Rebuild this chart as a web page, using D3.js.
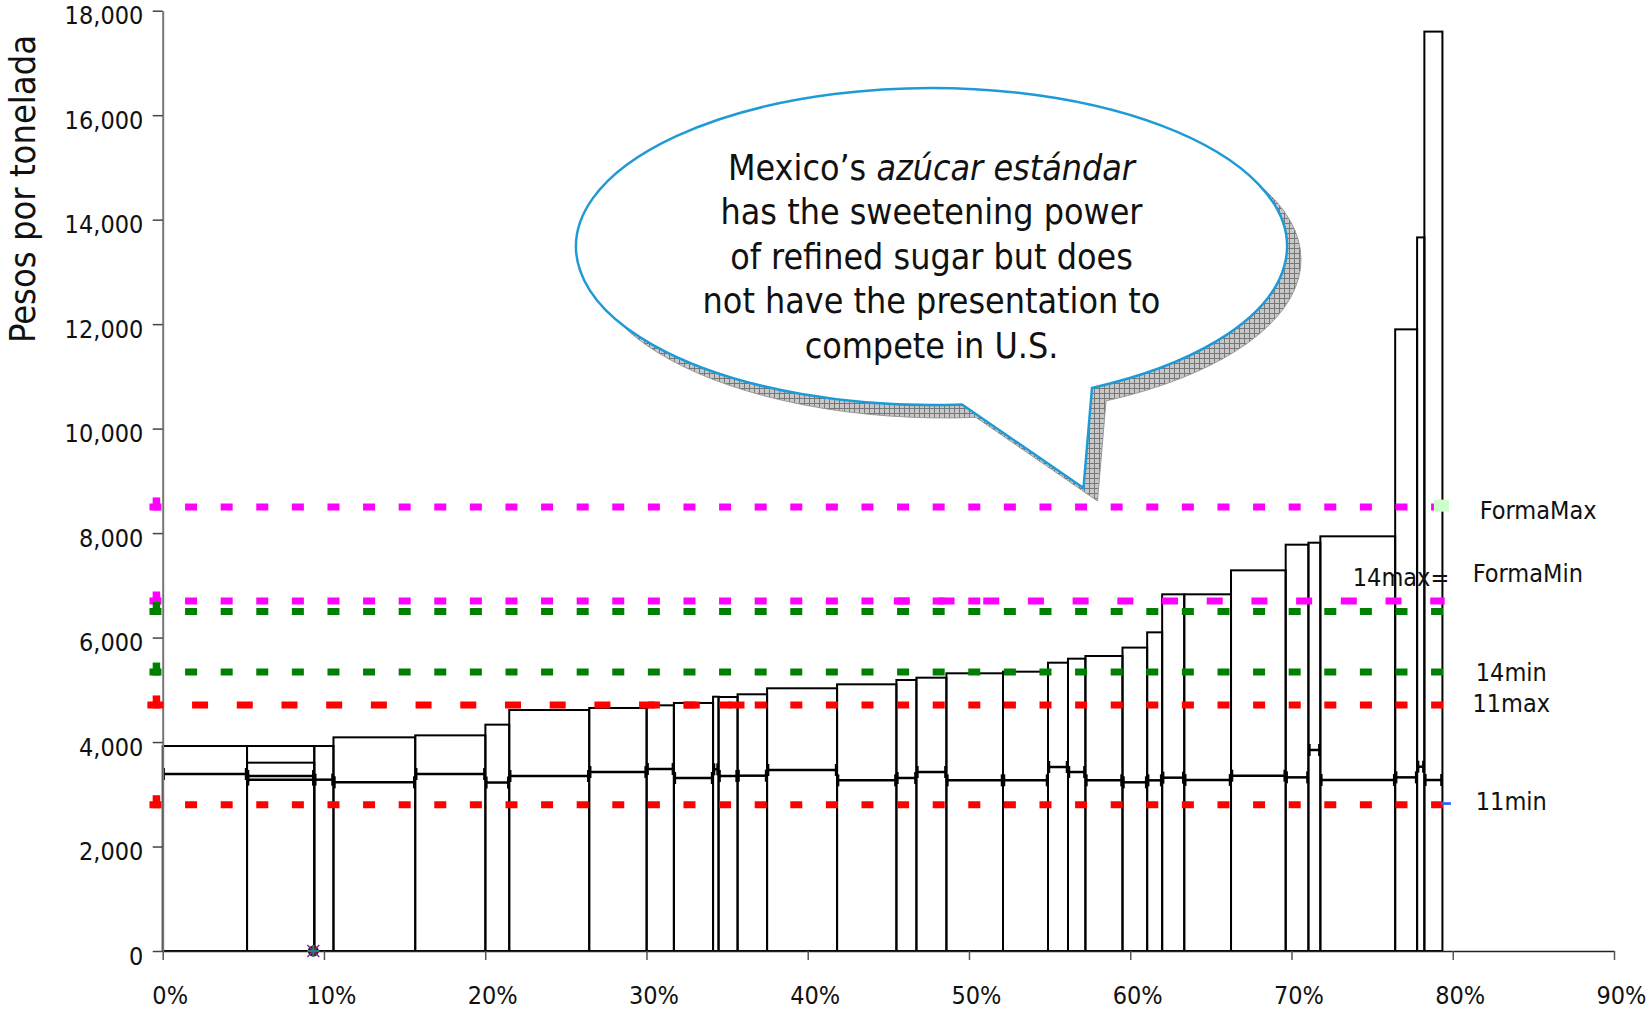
<!DOCTYPE html>
<html>
<head>
<meta charset="utf-8">
<script src="https://cdn.jsdelivr.net/npm/d3@7"></script>
<style>
  body { margin: 0; background: #fff; }
  svg { display: block; }
  text { font-family: "DejaVu Sans Condensed", "Noto Sans", sans-serif; }
</style>
</head>
<body>
<svg id="chart" width="1648" height="1012"></svg>
<script>
// ---------------- DATA ----------------
// cumulative share of production (%) where each mill's box starts / ends
const shareStart = [0, 5.23, 5.23, 9.40, 10.59, 15.66, 20.01, 21.49, 26.45, 30.01, 31.70, 34.13, 34.47, 35.65, 37.48, 41.82, 45.50, 46.74, 48.60, 52.11, 54.90, 56.14, 57.22, 59.52, 61.05, 61.98, 63.35, 66.25, 69.64, 71.05, 71.79, 76.43, 77.79, 78.24];
const shareEnd   = [5.23, 9.40, 9.40, 10.59, 15.66, 20.01, 21.49, 26.45, 30.01, 31.70, 34.13, 34.47, 35.65, 37.48, 41.82, 45.50, 46.74, 48.60, 52.11, 54.90, 56.14, 57.22, 59.52, 61.05, 61.98, 63.35, 66.25, 69.64, 71.05, 71.79, 76.43, 77.79, 78.24, 79.36];
// upper value of each box (pesos per ton)
const topValue   = [3924, 3924, 3605, 3924, 4090, 4128, 4333, 4613, 4652, 4703, 4748, 4868, 4862, 4914, 5029, 5105, 5188, 5232, 5316, 5347, 5519, 5596, 5647, 5808, 6100, 6828, 6828, 7287, 7778, 7816, 7938, 11900, 13660, 17600];
// lower value marked inside each box
const lowValue   = [3388, 3350, 3280, 3280, 3229, 3388, 3225, 3350, 3426, 3484, 3312, 3478, 3350, 3356, 3465, 3267, 3312, 3426, 3267, 3267, 3522, 3426, 3267, 3229, 3267, 3318, 3273, 3356, 3324, 3848, 3273, 3324, 3528, 3273];

const yTicks = [0, 2000, 4000, 6000, 8000, 10000, 12000, 14000, 16000, 18000];
const xTicks = [0, 10, 20, 30, 40, 50, 60, 70, 80, 90];

// horizontal reference levels
const refNames  = ["FormaMax", "FormaMin", "14max", "14min", "11max", "11min"];
const refValues = [8500, 6700, 6500, 5340, 4710, 2800];
const refColors = ["#ff00ff", "#ff00ff", "#008000", "#008000", "#ff0000", "#ff0000"];

// dashed segments drawn for each reference level (index into refNames)
const segRef   = [0, 1, 1, 2, 3, 4, 4, 5];
const segFrom  = [-0.82, -0.82, 45.34, -0.82, -0.82, -0.95, 30.09, -0.82];
const segTo    = [79.5, 50.9, 79.5, 79.5, 79.5, 36.2, 79.5, 79.5];
const segKind  = ["short", "short", "long", "short", "short", "long", "short", "short"];

// right-hand labels
const labelText  = ["FormaMax", "14max=", "FormaMin", "14min", "11max", "11min"];
const labelShare = [81.67, 73.8, 81.24, 81.43, 81.22, 81.43];
const labelValue = [8270, 6987, 7064, 5169, 4581, 2699];

// the marker at the origin line
const markerShare = [9.34];
const markerValue = [0];

const yTitle = "Pesos por tonelada";
const calloutLine1a = "Mexico’s ";
const calloutLine1b = "azúcar estándar";
const calloutLines = ["has the sweetening power", "of refined sugar but does", "not have the presentation to", "compete in U.S."];

// ---------------- CHART ----------------
const svg = d3.select("#chart");
svg.append("rect").attr("width", 1648).attr("height", 1012).attr("fill", "#fff");

const x = d3.scaleLinear().domain([0, 90]).range([162.7, 1614]);
const y = d3.scaleLinear().domain([0, 18000]).range([951, 10.7]);

const defs = svg.append("defs");
const pat = defs.append("pattern").attr("id", "hatch").attr("patternUnits", "userSpaceOnUse")
  .attr("width", 5).attr("height", 5);
pat.append("rect").attr("width", 5).attr("height", 5).attr("fill", "#c8c8c8");
pat.append("path").attr("d", "M0,0.5H5M0.5,0V5").attr("stroke", "#777").attr("stroke-width", 1);

// boxes
const bars = d3.range(shareStart.length);
svg.append("g").selectAll("rect").data(bars).join("rect")
  .attr("x", i => x(shareStart[i]))
  .attr("width", i => x(shareEnd[i]) - x(shareStart[i]))
  .attr("y", i => y(topValue[i]))
  .attr("height", i => y(0) - y(topValue[i]))
  .attr("fill", "none").attr("stroke", "#000").attr("stroke-width", 2);

// inner lower lines with caps
const low = svg.append("g").attr("stroke", "#000");
low.selectAll("line.l").data(bars).join("line").attr("class", "l")
  .attr("x1", i => x(shareStart[i])).attr("x2", i => x(shareEnd[i]))
  .attr("y1", i => y(lowValue[i])).attr("y2", i => y(lowValue[i]))
  .attr("stroke-width", 2.5);
low.selectAll("line.c0").data(bars).join("line").attr("class", "c0")
  .attr("x1", i => x(shareStart[i]) + 1).attr("x2", i => x(shareStart[i]) + 1)
  .attr("y1", i => y(lowValue[i]) - 6).attr("y2", i => y(lowValue[i]) + 6)
  .attr("stroke-width", 2.5);
low.selectAll("line.c1").data(bars).join("line").attr("class", "c1")
  .attr("x1", i => x(shareEnd[i]) - 1).attr("x2", i => x(shareEnd[i]) - 1)
  .attr("y1", i => y(lowValue[i]) - 6).attr("y2", i => y(lowValue[i]) + 6)
  .attr("stroke-width", 2.5);

// axes
const xAxis = svg.append("g").attr("transform", `translate(0,${y(0)})`)
  .call(d3.axisBottom(x).tickValues(xTicks).tickSize(9).tickSizeOuter(0).tickFormat(d => d + "%"));
xAxis.select(".domain").attr("stroke", "#222").attr("stroke-width", 1.5);
xAxis.selectAll(".tick line").attr("stroke", "#555").attr("stroke-width", 1.5);
xAxis.selectAll(".tick text").attr("y", 53).attr("dy", 0).attr("x", 7)
  .attr("font-size", 25).attr("fill", "#111");

const yAxis = svg.append("g").attr("transform", `translate(${x(0)},0)`)
  .call(d3.axisLeft(y).tickValues(yTicks).tickSize(10).tickSizeOuter(0).tickFormat(d3.format(",")));
yAxis.select(".domain").attr("stroke", "#777").attr("stroke-width", 2);
yAxis.selectAll(".tick line").attr("stroke", "#444").attr("stroke-width", 1.5);
yAxis.selectAll(".tick text").attr("x", -19.4).attr("y", 13).attr("dy", 0)
  .attr("font-size", 25).attr("fill", "#111");
xAxis.attr("font-family", null);
yAxis.attr("font-family", null);

svg.append("text").attr("transform", "translate(35,189) rotate(-90)")
  .attr("text-anchor", "middle").attr("font-size", 36).attr("fill", "#111").text(yTitle);

// dashed reference lines
const dashStyle = { short: "12,23.6", long: "16,28.7" };
const segs = d3.range(segRef.length);
svg.append("g").selectAll("line").data(segs).join("line")
  .attr("x1", i => x(segFrom[i])).attr("x2", i => x(segTo[i]))
  .attr("y1", i => y(refValues[segRef[i]])).attr("y2", i => y(refValues[segRef[i]]))
  .attr("stroke", i => refColors[segRef[i]]).attr("stroke-width", 7)
  .attr("stroke-dasharray", i => dashStyle[segKind[i]]);

// start-of-line markers
svg.append("g").selectAll("rect").data(d3.range(refValues.length)).join("rect")
  .attr("x", x(-0.82) + 3.2).attr("width", 7.5)
  .attr("y", i => y(refValues[i]) - 9.5).attr("height", 13)
  .attr("fill", i => refColors[i]);

// end markers
svg.append("rect").attr("x", x(79.36) - 8.5).attr("width", 15)
  .attr("y", y(refValues[0]) - 7.3).attr("height", 12).attr("fill", "#ccffcc");
svg.append("rect").attr("x", x(79.36) - 1).attr("width", 9.5)
  .attr("y", y(refValues[5]) - 2.6).attr("height", 2.8).attr("fill", "#3366ff");

// labels
svg.append("g").selectAll("text").data(d3.range(labelText.length)).join("text")
  .attr("x", i => x(labelShare[i])).attr("y", i => y(labelValue[i]))
  .attr("font-size", 25).attr("fill", "#111").text(i => labelText[i]);

// marker at zero
const mk = svg.append("g").selectAll("g").data(d3.range(markerShare.length)).join("g")
  .attr("transform", i => `translate(${x(markerShare[i])},${y(markerValue[i])})`);
mk.append("circle").attr("r", 5.5).attr("fill", "#800000");
mk.append("path").attr("d", "M-6,-6L6,6M-6,6L6,-6").attr("stroke", "#7030a0").attr("stroke-width", 1.5);
mk.append("path").attr("d", "M-6,0H6M0,-6V6").attr("stroke", "#0a8a8a").attr("stroke-width", 2);

// callout bubble
const cx = 931.5, cy = 246.5, rx = 355.5, ry = 158.5;
const baseL = [962, cy + ry * Math.sqrt(1 - Math.pow((962 - cx) / rx, 2))];
const baseR = [1092, cy + ry * Math.sqrt(1 - Math.pow((1092 - cx) / rx, 2))];
const tip = [1083.5, 488];
const bubblePath = `M${baseL[0]},${baseL[1]}L${tip[0]},${tip[1]}L${baseR[0]},${baseR[1]}A${rx},${ry} 0 1 0 ${baseL[0]},${baseL[1]}Z`;
svg.append("path").attr("d", bubblePath).attr("transform", "translate(14,13)")
  .attr("fill", "url(#hatch)").attr("stroke", "#999").attr("stroke-width", 1);
svg.append("path").attr("d", bubblePath).attr("fill", "#fff")
  .attr("stroke", "#1e9bd7").attr("stroke-width", 2.5).attr("stroke-linejoin", "miter");

const tx = svg.append("text").attr("text-anchor", "middle").attr("font-size", 35.5).attr("fill", "#111");
const l1 = tx.append("tspan").attr("x", cx).attr("y", 179.5);
l1.append("tspan").text(calloutLine1a);
l1.append("tspan").attr("font-style", "italic").text(calloutLine1b);
calloutLines.forEach((t, k) => {
  tx.append("tspan").attr("x", cx).attr("y", 179.5 + 44.5 * (k + 1)).text(t);
});
</script>
</body>
</html>
